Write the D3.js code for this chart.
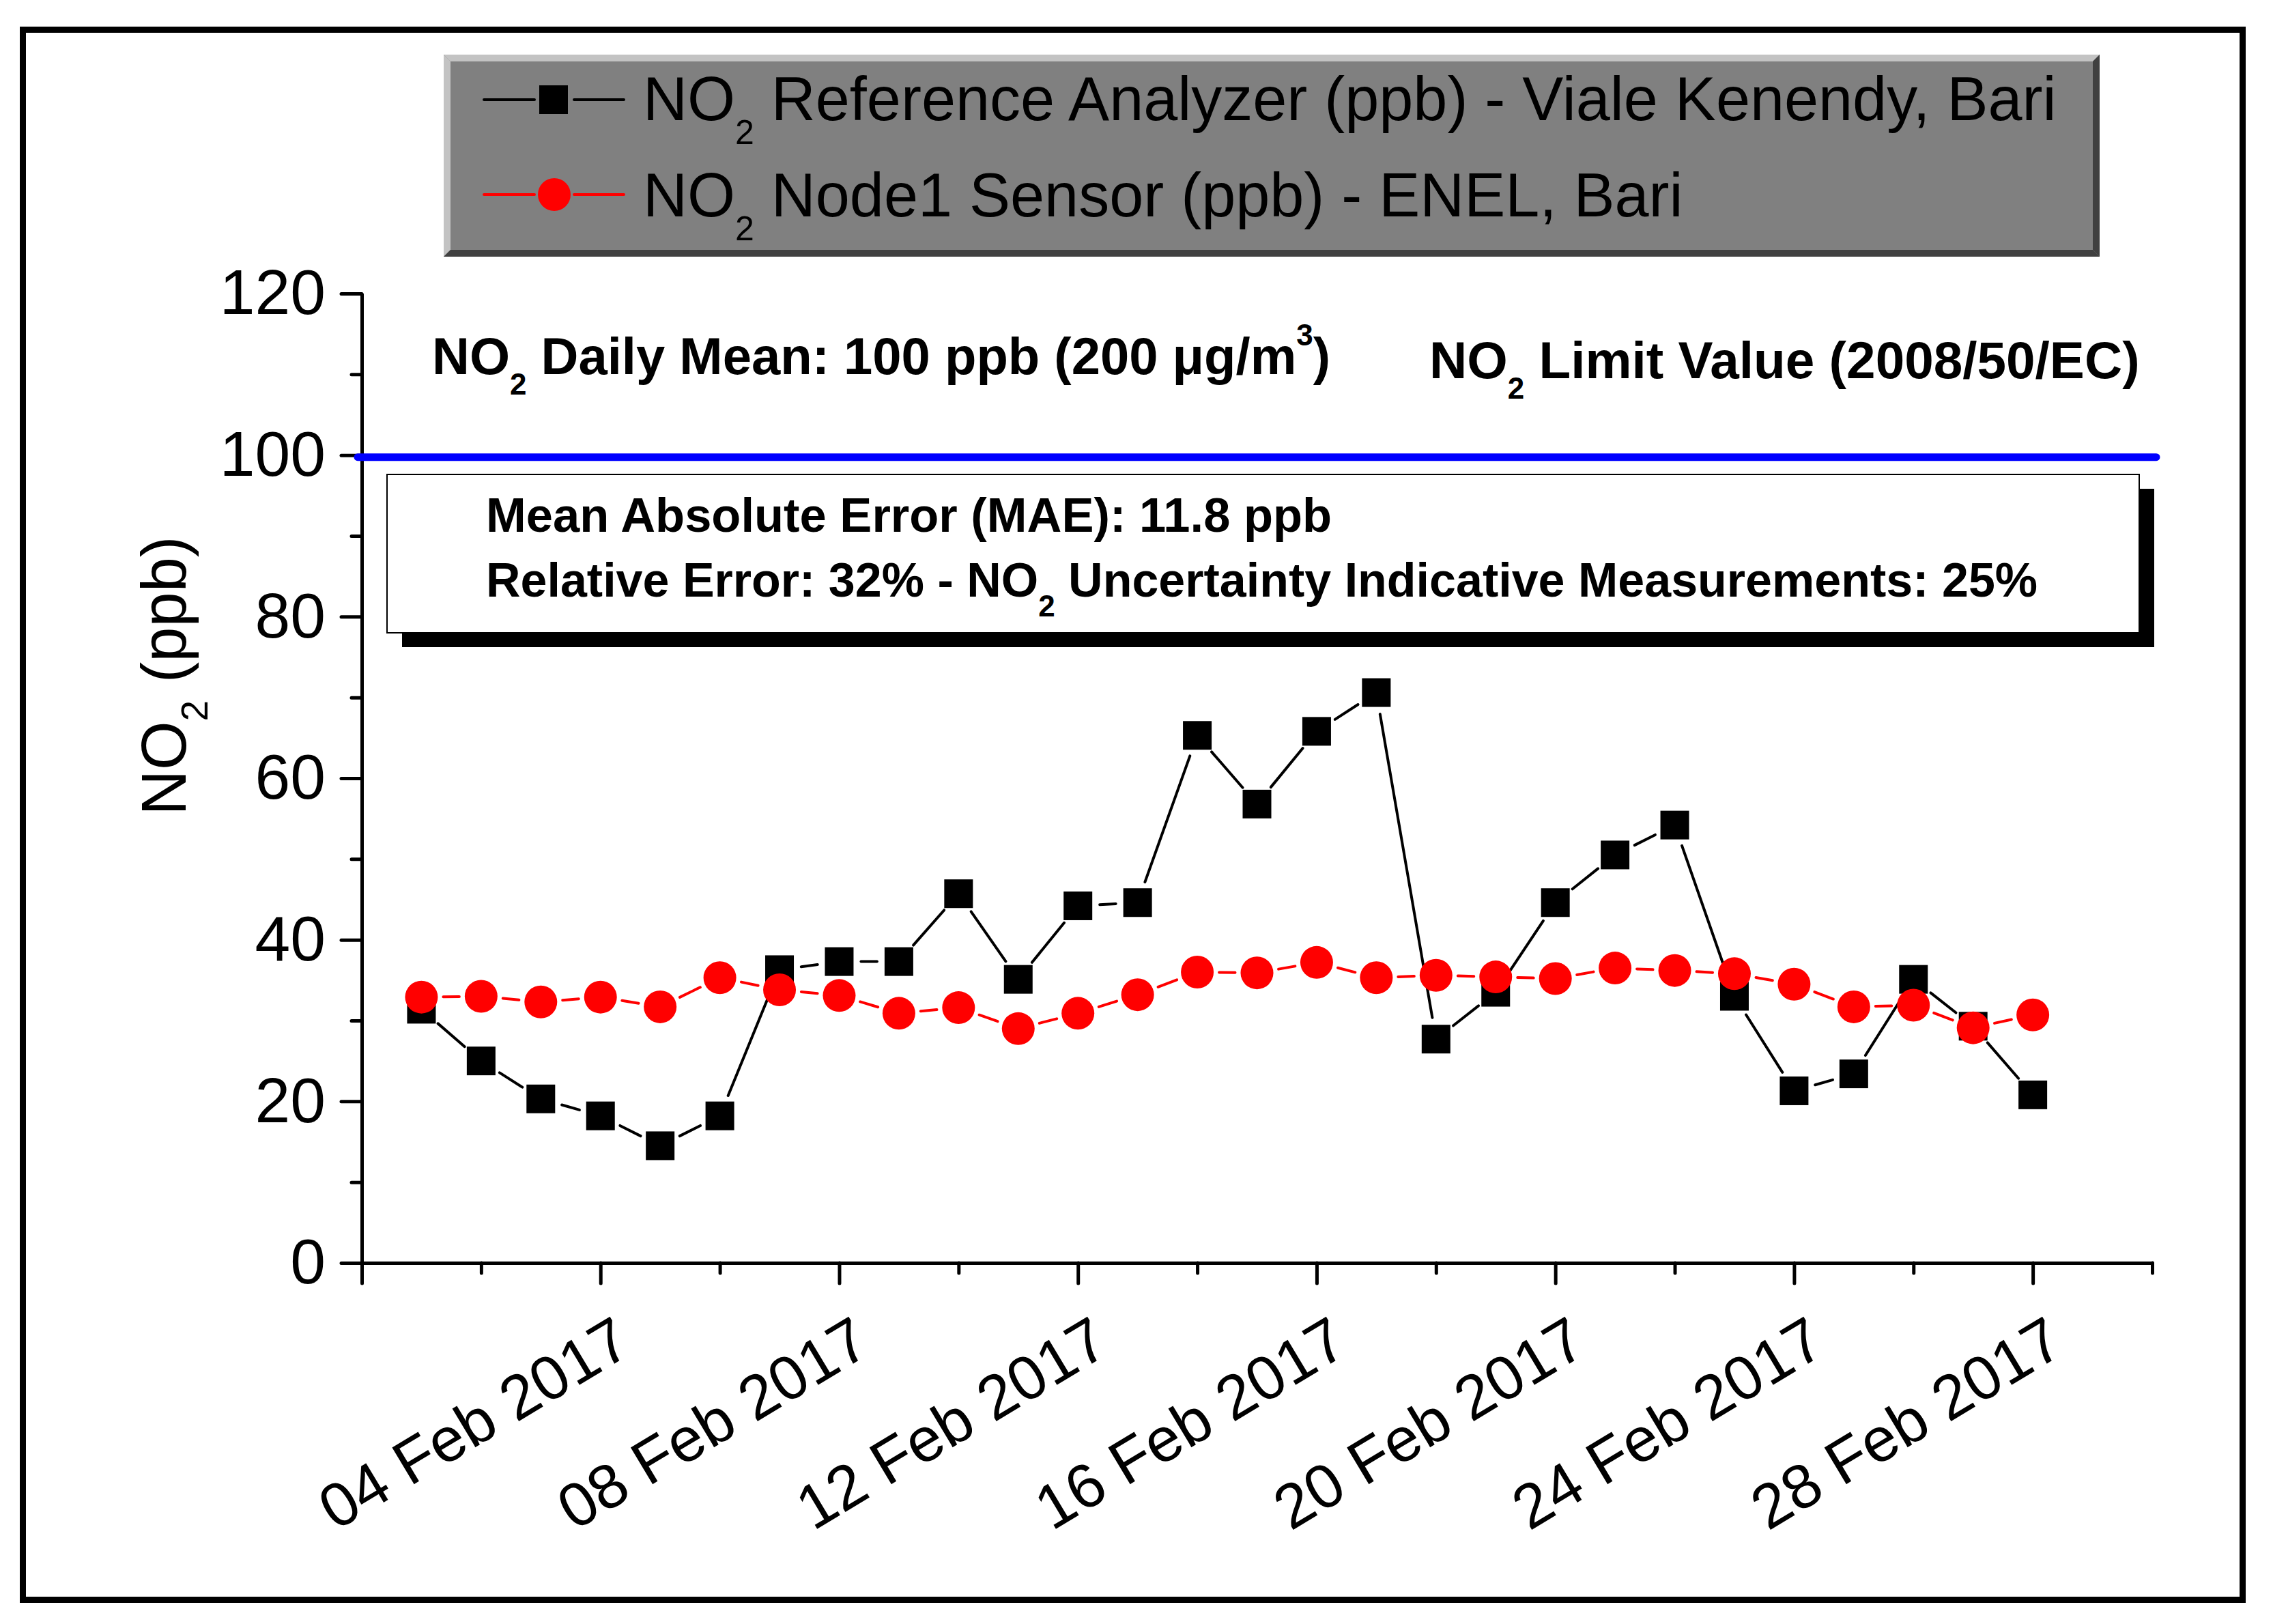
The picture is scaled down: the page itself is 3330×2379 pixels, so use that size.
<!DOCTYPE html>
<html><head><meta charset="utf-8">
<script src="https://cdn.jsdelivr.net/npm/d3@7"></script>
<style>html,body{margin:0;padding:0;background:#fff}</style>
</head><body>
<svg id="chart" width="3330" height="2379"></svg>
<script>
// ---------- data ----------
const dates = ["2017-02-01","2017-02-02","2017-02-03","2017-02-04","2017-02-05","2017-02-06","2017-02-07",
  "2017-02-08","2017-02-09","2017-02-10","2017-02-11","2017-02-12","2017-02-13","2017-02-14",
  "2017-02-15","2017-02-16","2017-02-17","2017-02-18","2017-02-19","2017-02-20","2017-02-21",
  "2017-02-22","2017-02-23","2017-02-24","2017-02-25","2017-02-26","2017-02-27","2017-02-28"];
const referenceNO2 = [31.4,25.0,20.3,18.2,14.5,18.2,36.3,37.3,37.3,45.7,35.1,44.2,44.6,65.3,
  56.8,65.8,70.6,27.7,33.5,44.6,50.5,54.2,33.0,21.3,23.4,35.1,29.3,20.8];
const sensorNO2 = [32.9,33.0,32.3,32.9,31.7,35.3,33.8,33.1,30.9,31.6,29.0,30.9,33.2,36.0,
  35.9,37.2,35.3,35.6,35.4,35.2,36.5,36.2,35.8,34.5,31.7,31.9,29.1,30.7];
const xDomain = ["2017-01-31","2017-03-02"];
const xMajorTicks = ["2017-01-31","2017-02-04","2017-02-08","2017-02-12","2017-02-16","2017-02-20","2017-02-24","2017-02-28"];
const xTickLabels = ["","04 Feb 2017","08 Feb 2017","12 Feb 2017","16 Feb 2017","20 Feb 2017","24 Feb 2017","28 Feb 2017"];
const xMinorTicks = ["2017-02-02","2017-02-06","2017-02-10","2017-02-14","2017-02-18","2017-02-22","2017-02-26","2017-03-02"];
const yDomain = [0,120];
const yMajorTicks = [0,20,40,60,80,100,120];
const yMinorTicks = [10,30,50,70,90,110];
const limitValue = 100;
const legendLabels = [
  ["NO","2"," Reference Analyzer (ppb) - Viale Kenendy, Bari"],
  ["NO","2"," Node1 Sensor (ppb) - ENEL, Bari"]
];

// ---------- setup ----------
const FONT = "'Liberation Sans', Arial, Helvetica, sans-serif";
const parse = d3.utcParse("%Y-%m-%d");
const svg = d3.select("#chart");
svg.append("rect").attr("width",3330).attr("height",2379).attr("fill","#fff");

const x = d3.scaleUtc().domain(xDomain.map(parse)).range([530, 3153]);
const y = d3.scaleLinear().domain(yDomain).range([1850, 430]);

// outer frame
svg.append("rect").attr("x",33.5).attr("y",43.5).attr("width",3252).attr("height",2300)
  .attr("fill","none").attr("stroke","#000").attr("stroke-width",9);

// ---------- legend box ----------
const L = {x0:650, y0:80, x1:3076, y1:376, b:10};
const lg = svg.append("g");
lg.append("rect").attr("x",L.x0).attr("y",L.y0).attr("width",L.x1-L.x0).attr("height",L.y1-L.y0).attr("fill","#808080");
const poly = (pts, fill) => lg.append("polygon").attr("points", pts.map(p=>p.join(",")).join(" ")).attr("fill",fill);
poly([[L.x0,L.y0],[L.x1,L.y0],[L.x1-L.b,L.y0+L.b],[L.x0+L.b,L.y0+L.b]], "#c3c3c3");
poly([[L.x0,L.y0],[L.x0+L.b,L.y0+L.b],[L.x0+L.b,L.y1-L.b],[L.x0,L.y1]], "#c3c3c3");
poly([[L.x0,L.y1],[L.x0+L.b,L.y1-L.b],[L.x1-L.b,L.y1-L.b],[L.x1,L.y1]], "#404040");
poly([[L.x1,L.y0],[L.x1,L.y1],[L.x1-L.b,L.y1-L.b],[L.x1-L.b,L.y0+L.b]], "#404040");

const legRows = [{y:146, base:176, color:"#000", shape:"square"},{y:285, base:317, color:"#f00", shape:"circle"}];
legRows.forEach((r,i) => {
  lg.append("line").attr("x1",709).attr("x2",783).attr("y1",r.y).attr("y2",r.y)
    .attr("stroke",r.color).attr("stroke-width",4).attr("stroke-linecap","round");
  lg.append("line").attr("x1",841).attr("x2",914).attr("y1",r.y).attr("y2",r.y)
    .attr("stroke",r.color).attr("stroke-width",4).attr("stroke-linecap","round");
  if (r.shape === "square") lg.append("rect").attr("x",790).attr("y",r.y-21).attr("width",42).attr("height",42).attr("fill",r.color);
  else lg.append("circle").attr("cx",812).attr("cy",r.y).attr("r",24).attr("fill",r.color);
  const t = lg.append("text").attr("x",942).attr("y",r.base).attr("font-family",FONT).attr("font-size",90).attr("fill","#000");
  t.append("tspan").text(legendLabels[i][0]);
  t.append("tspan").attr("font-size",50).attr("dy",35).text(legendLabels[i][1]);
  t.append("tspan").attr("dy",-35).text(legendLabels[i][2]);
});

// ---------- axes ----------
const axisStyle = g => {
  g.selectAll("path.domain").attr("stroke","#000").attr("stroke-width",5);
  g.selectAll(".tick line").attr("stroke","#000").attr("stroke-width",5).attr("stroke-linecap","round");
};
// y axis
const gy = svg.append("g").attr("transform","translate(530,0)")
  .call(d3.axisLeft(y).tickValues(yMajorTicks).tickSize(30).tickSizeOuter(0).tickPadding(23).tickFormat(d3.format("d")));
axisStyle(gy);
gy.selectAll("text").attr("font-family",FONT).attr("font-size",93).attr("fill","#000");
const gyMinor = svg.append("g").attr("transform","translate(530,0)")
  .call(d3.axisLeft(y).tickValues(yMinorTicks).tickSize(15).tickSizeOuter(0).tickFormat(""));
axisStyle(gyMinor);

// x axis
const gx = svg.append("g").attr("transform",`translate(0,${y(0)})`)
  .call(d3.axisBottom(x).tickValues(xMajorTicks.map(parse)).tickSize(30).tickSizeOuter(0).tickFormat(""));
axisStyle(gx);
const gxMinor = svg.append("g").attr("transform",`translate(0,${y(0)})`)
  .call(d3.axisBottom(x).tickValues(xMinorTicks.map(parse)).tickSize(15).tickSizeOuter(0).tickFormat(""));
axisStyle(gxMinor);
xMajorTicks.forEach((d,i) => {
  if (!xTickLabels[i]) return;
  svg.append("text").attr("font-family",FONT).attr("font-size",91).attr("fill","#000")
    .attr("text-anchor","end")
    .attr("transform",`translate(${x(parse(d))+50},${y(0)+130}) rotate(-31)`)
    .text(xTickLabels[i]);
});

// y axis title
const yt = svg.append("text").attr("font-family",FONT).attr("font-size",92).attr("fill","#000")
  .attr("text-anchor","middle").attr("transform","translate(272,990) rotate(-90)");
yt.append("tspan").text("NO");
yt.append("tspan").attr("font-size",55).attr("dy",32).text("2");
yt.append("tspan").attr("dy",-32).text(" (ppb)");

// ---------- limit line & annotations ----------
svg.append("line").attr("x1",x(parse(xDomain[0]))-6).attr("x2",x(parse(xDomain[1]))+6)
  .attr("y1",y(limitValue)+3).attr("y2",y(limitValue)+3)
  .attr("stroke","#0000ff").attr("stroke-width",11).attr("stroke-linecap","round");

const a1 = svg.append("text").attr("x",633).attr("y",548).attr("font-family",FONT).attr("font-size",76)
  .attr("font-weight","bold").attr("fill","#000");
a1.append("tspan").text("NO");
a1.append("tspan").attr("font-size",44).attr("dy",30).text("2");
a1.append("tspan").attr("dy",-30).text(" Daily Mean: 100 ppb (200 μg/m");
a1.append("tspan").attr("font-size",44).attr("dy",-42).text("3");
a1.append("tspan").attr("dy",42).text(")");

const a2 = svg.append("text").attr("x",2094).attr("y",554).attr("font-family",FONT).attr("font-size",76.5)
  .attr("font-weight","bold").attr("fill","#000");
a2.append("tspan").text("NO");
a2.append("tspan").attr("font-size",44).attr("dy",30).text("2");
a2.append("tspan").attr("dy",-30).text(" Limit Value (2008/50/EC)");

// error box
svg.append("rect").attr("x",589).attr("y",716).attr("width",2567).attr("height",232).attr("fill","#000");
svg.append("rect").attr("x",567).attr("y",695).attr("width",2567).attr("height",232)
  .attr("fill","#fff").attr("stroke","#000").attr("stroke-width",2);
svg.append("text").attr("x",712).attr("y",779).attr("font-family",FONT).attr("font-size",70.5)
  .attr("font-weight","bold").attr("fill","#000").text("Mean Absolute Error (MAE): 11.8 ppb");
const b2 = svg.append("text").attr("x",712).attr("y",874).attr("font-family",FONT).attr("font-size",70)
  .attr("font-weight","bold").attr("fill","#000");
b2.append("tspan").text("Relative Error: 32% - NO");
b2.append("tspan").attr("font-size",44).attr("dy",29).text("2");
b2.append("tspan").attr("dy",-29).text(" Uncertainty Indicative Measurements: 25%");

// ---------- series ----------
const GAP = 32;
function drawSeries(values, color, shape) {
  const pts = dates.map((d,i) => [x(parse(d)), y(values[i])]);
  const g = svg.append("g");
  for (let i = 0; i < pts.length - 1; i++) {
    const [x1,y1] = pts[i], [x2,y2] = pts[i+1];
    const dx = x2-x1, dy = y2-y1, len = Math.hypot(dx,dy);
    if (len <= 2*GAP) continue;
    const ux = dx/len, uy = dy/len;
    g.append("line").attr("x1",x1+ux*GAP).attr("y1",y1+uy*GAP).attr("x2",x2-ux*GAP).attr("y2",y2-uy*GAP)
      .attr("stroke",color).attr("stroke-width",4).attr("stroke-linecap","round");
  }
  if (shape === "square") {
    g.selectAll("rect").data(pts).join("rect").attr("x",p=>p[0]-21).attr("y",p=>p[1]-21)
      .attr("width",42).attr("height",42).attr("fill",color);
  } else {
    g.selectAll("circle").data(pts).join("circle").attr("cx",p=>p[0]).attr("cy",p=>p[1])
      .attr("r",24).attr("fill",color);
  }
}
drawSeries(referenceNO2, "#000", "square");
drawSeries(sensorNO2, "#ff0000", "circle");
</script>
</body></html>
